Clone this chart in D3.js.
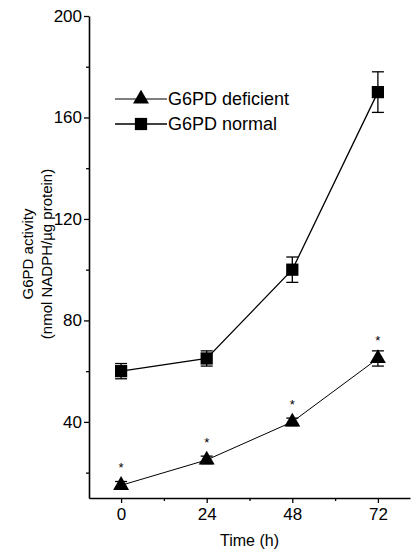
<!DOCTYPE html>
<html>
<head>
<meta charset="utf-8">
<script src="https://cdn.jsdelivr.net/npm/d3@7"></script>
<style>
  body { margin: 0; background: #fff; }
  svg { display: block; font-family: "Liberation Sans", Arial, sans-serif; }
</style>
</head>
<body>
<div class="chart"></div>
<script>
const hours = [0, 24, 48, 72];
const deficient = [15, 25, 40, 65];
const deficientErr = [1.5, 1.5, 1.5, 3];
const normal = [60, 65, 100, 170];
const normalErr = [3, 3, 5, 8];
const yTicks = [40, 80, 120, 160, 200];
const yMinorTicks = [20, 60, 100, 140, 180];
const xMinorTicks = [12, 36, 60];

const W = 412, H = 551;

const svg = d3.select('.chart').append('svg')
    .attr('width', W).attr('height', H);

const x = d3.scaleLinear().domain([-9, 81]).range([89, 410]);
const y = d3.scaleLinear().domain([10, 200]).range([498, 16]);

// axes
const yAxisEl = svg.append('g').attr('transform', `translate(${x.range()[0]},0)`);
yAxisEl.call(d3.axisLeft(y).tickValues(yTicks).tickSize(5).tickSizeOuter(0));
svg.append('g').attr('transform', `translate(${x.range()[0]},0)`)
    .call(d3.axisLeft(y).tickValues(yMinorTicks).tickSize(3).tickFormat(''))
    .select('.domain').remove();

const xAxisEl = svg.append('g').attr('transform', `translate(0,${y.range()[0]})`);
xAxisEl.call(d3.axisBottom(x).tickValues(hours).tickSize(5).tickSizeOuter(0));
svg.append('g').attr('transform', `translate(0,${y.range()[0]})`)
    .call(d3.axisBottom(x).tickValues(xMinorTicks).tickSize(3).tickFormat(''))
    .select('.domain').remove();

svg.selectAll('.domain').attr('stroke', '#000').attr('stroke-width', 1.6);
svg.selectAll('.tick line').attr('stroke', '#000').attr('stroke-width', 1.3);
svg.selectAll('.tick text')
    .attr('font-size', 17).attr('fill', '#000')
    .attr('font-family', '"Liberation Sans", Arial, sans-serif');
yAxisEl.selectAll('.tick text').attr('x', -7);
xAxisEl.selectAll('.tick text').attr('y', 10);

// axis titles
svg.append('text')
    .attr('x', (x(0) + x(72)) / 2).attr('y', 546)
    .attr('text-anchor', 'middle').attr('font-size', 16)
    .text('Time (h)');

const yl = svg.append('g').attr('transform', 'translate(0,254) rotate(-90)');
yl.append('text').attr('x', 0).attr('y', 33)
    .attr('text-anchor', 'middle').attr('font-size', 15)
    .text('G6PD activity');
yl.append('text').attr('x', 0).attr('y', 52)
    .attr('text-anchor', 'middle').attr('font-size', 15)
    .text('(nmol NADPH/µg protein)');

const series = [
    { name: 'G6PD deficient', values: deficient, err: deficientErr, shape: d3.symbolTriangle, size: 110, lineWidth: 1 },
    { name: 'G6PD normal', values: normal, err: normalErr, shape: d3.symbolSquare, size: 150, lineWidth: 1.3 }
];

const line = d3.line()
    .x((d) => x(d.h))
    .y((d) => y(d.v));

series.forEach((s) => {
    const pts = hours.map((h, i) => ({ h, v: s.values[i], e: s.err[i] }));
    svg.append('path')
        .datum(pts)
        .attr('d', line)
        .attr('fill', 'none')
        .attr('stroke', '#000')
        .attr('stroke-width', s.lineWidth);

    const eb = svg.append('g').selectAll('g').data(pts).join('g');
    eb.append('line')
        .attr('x1', (d) => x(d.h)).attr('x2', (d) => x(d.h))
        .attr('y1', (d) => y(d.v + d.e)).attr('y2', (d) => y(d.v - d.e))
        .attr('stroke', '#000').attr('stroke-width', 1.3);
    eb.append('line')
        .attr('x1', (d) => x(d.h) - 6).attr('x2', (d) => x(d.h) + 6)
        .attr('y1', (d) => y(d.v + d.e)).attr('y2', (d) => y(d.v + d.e))
        .attr('stroke', '#000').attr('stroke-width', 1.3);
    eb.append('line')
        .attr('x1', (d) => x(d.h) - 6).attr('x2', (d) => x(d.h) + 6)
        .attr('y1', (d) => y(d.v - d.e)).attr('y2', (d) => y(d.v - d.e))
        .attr('stroke', '#000').attr('stroke-width', 1.3);

    svg.append('g').selectAll('path').data(pts).join('path')
        .attr('d', d3.symbol().type(s.shape).size(s.size))
        .attr('transform', (d) => `translate(${x(d.h)},${y(d.v)})`)
        .attr('fill', '#000');
});

// significance stars above deficient points
svg.append('g').selectAll('text').data(hours.map((h, i) => ({ h, v: deficient[i] })))
    .join('text')
    .attr('x', (d) => x(d.h)).attr('y', (d) => y(d.v) - 13)
    .attr('text-anchor', 'middle').attr('font-size', 13)
    .attr('fill', '#000')
    .text('*');

// legend
const legend = svg.append('g');
series.forEach((s, i) => {
    const ly = 99 + i * 25;
    legend.append('line')
        .attr('x1', 115).attr('x2', 167).attr('y1', ly).attr('y2', ly)
        .attr('stroke', '#000').attr('stroke-width', s.lineWidth);
    legend.append('path')
        .attr('d', d3.symbol().type(s.shape).size(s.size))
        .attr('transform', `translate(141,${ly})`)
        .attr('fill', '#000');
    legend.append('text')
        .attr('x', 168).attr('y', ly + 6)
        .attr('font-size', 18)
        .attr('fill', '#000')
        .text(s.name);
});
</script>
</body>
</html>
